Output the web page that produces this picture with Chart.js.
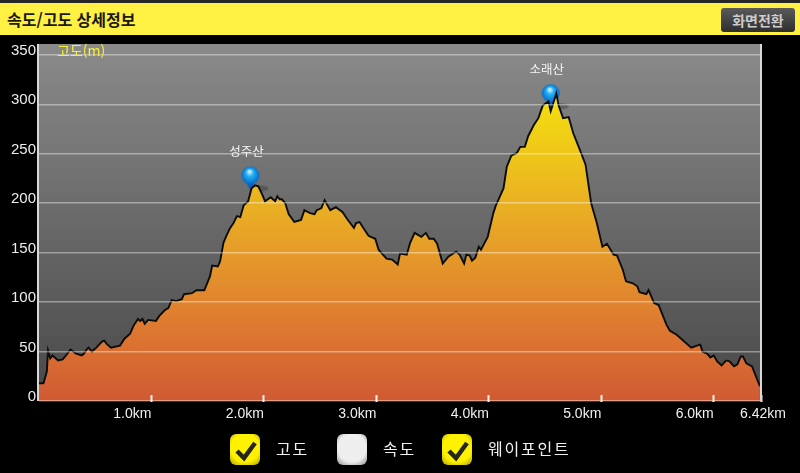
<!DOCTYPE html>
<html lang="ko">
<head>
<meta charset="utf-8">
<title>속도/고도 상세정보</title>
<script src="https://cdn.jsdelivr.net/npm/chart.js@4"></script>
<style>
  html, body { margin: 0; padding: 0; background: #000; }
  #page { position: relative; width: 800px; height: 473px; overflow: hidden; background: #000; font-family: "Noto Sans CJK KR", sans-serif; }
  #chart-wrap { position: absolute; left: 0; top: 0; width: 800px; height: 473px; }
  #top-strip { position: absolute; left: 0; top: 0; width: 800px; height: 3px; background: #262626; }
  #title-bar { position: absolute; left: 0; top: 3px; width: 800px; height: 32px; background: #fff044; }
  #title-bar .title { position: absolute; left: 7px; top: 3px; font-size: 16px; line-height: 26px; font-weight: 700; color: #1a1a10; }
  #btn-switch { position: absolute; left: 721px; top: 5px; width: 74px; height: 24px; border-radius: 3px; background: linear-gradient(#5a5a5a, #2e2e2e); color: #cccccc; font-size: 14px; font-weight: 700; line-height: 24px; text-align: center; }
  .check { position: absolute; top: 434px; width: 30px; height: 31px; border-radius: 6px; }
  .check.on { background: radial-gradient(circle at 50% 45%, #fff200 62%, #a89a00 100%); }
  .check.off { background: radial-gradient(circle at 50% 45%, #eeeeee 62%, #8a8a8a 100%); }
  .check svg { position: absolute; left: 0; top: 0; }
  .legend-text { position: absolute; top: 436px; font-size: 16px; line-height: 24px; color: #f0f0f0; letter-spacing: 1.8px; }
</style>
</head>
<body>
<div id="page">
  <div id="chart-wrap"><canvas id="chart-profile"></canvas></div>
  <div id="top-strip"></div>
  <div id="title-bar">
    <span class="title">속도/고도 상세정보</span>
    <div id="btn-switch">화면전환</div>
  </div>
  <div class="check on" style="left:230px"><svg width="30" height="31"><path d="M7 17 L14 24 L25 9" fill="none" stroke="#26261c" stroke-width="4.5"/></svg></div>
  <div class="legend-text" style="left:276px">고도</div>
  <div class="check off" style="left:337px"></div>
  <div class="legend-text" style="left:383px">속도</div>
  <div class="check on" style="left:442px"><svg width="30" height="31"><path d="M7 17 L14 24 L25 9" fill="none" stroke="#26261c" stroke-width="4.5"/></svg></div>
  <div class="legend-text" style="left:488px">웨이포인트</div>
</div>

<script>
// Elevation profile
const distanceKm = [
  0, 0.04, 0.07, 0.08, 0.10, 0.12, 0.17, 0.21, 0.24, 0.26, 0.28, 0.33, 0.38, 0.40, 0.43, 0.44, 0.47, 0.51, 0.56, 0.58,
  0.60, 0.64, 0.72, 0.76, 0.81, 0.84, 0.88, 0.90, 0.92, 0.94, 0.97, 1.04, 1.07, 1.12, 1.15, 1.18, 1.22, 1.27, 1.29, 1.36,
  1.40, 1.47, 1.52, 1.54, 1.59, 1.61, 1.64, 1.67, 1.70, 1.73, 1.76, 1.79, 1.82, 1.86, 1.89, 1.92, 1.95, 1.98, 2.01, 2.06,
  2.10, 2.12, 2.14, 2.16, 2.19, 2.22, 2.27, 2.33, 2.36, 2.41, 2.45, 2.47, 2.51, 2.54, 2.59, 2.64, 2.70, 2.74, 2.80, 2.82,
  2.85, 2.89, 2.93, 2.99, 3.02, 3.05, 3.09, 3.14, 3.19, 3.21, 3.27, 3.30, 3.34, 3.40, 3.44, 3.47, 3.51, 3.54, 3.59, 3.64,
  3.68, 3.71, 3.74, 3.78, 3.80, 3.83, 3.85, 3.88, 3.91, 3.93, 3.99, 4.04, 4.06, 4.13, 4.16, 4.20, 4.25, 4.28, 4.32, 4.35,
  4.40, 4.44, 4.48, 4.53, 4.55, 4.60, 4.62, 4.66, 4.71, 4.75, 4.82, 4.86, 4.91, 4.96, 5.01, 5.05, 5.11, 5.14, 5.19, 5.22,
  5.28, 5.32, 5.34, 5.40, 5.42, 5.47, 5.51, 5.58, 5.61, 5.67, 5.74, 5.80, 5.85, 5.88, 5.90, 5.94, 5.97, 6.00, 6.03, 6.07,
  6.11, 6.14, 6.18, 6.21, 6.24, 6.26, 6.29, 6.34, 6.41
];
const elevationM = [
  18, 18, 30, 51, 43, 46, 41, 42, 46, 49, 52, 48, 46, 48, 53, 54, 50, 54, 60, 61,
  58, 54, 56, 63, 68, 76, 83, 81, 83, 78, 82, 81, 86, 92, 94, 102, 101, 103, 108, 109,
  112, 112, 126, 137, 136, 141, 160, 168, 175, 180, 187, 186, 198, 202, 215, 218, 217, 210, 202, 206,
  202, 207, 204, 204, 200, 189, 181, 183, 193, 190, 189, 193, 195, 203, 193, 196, 191, 184, 175, 180,
  181, 174, 167, 164, 153, 149, 144, 143, 138, 149, 148, 160, 170, 166, 170, 164, 164, 159, 139, 146,
  149, 151, 148, 139, 148, 147, 142, 145, 156, 153, 166, 190, 197, 215, 237, 248, 251, 257, 257, 268,
  279, 286, 299, 303, 293, 311, 299, 286, 287, 271, 251, 239, 200, 180, 156, 159, 148, 147, 133, 121,
  119, 116, 110, 108, 112, 99, 97, 77, 71, 67, 60, 54, 56, 57, 50, 48, 44, 46, 40, 36,
  41, 40, 35, 37, 45, 45, 38, 35, 15
];

const waypointNames = ['성주산', '소래산'];
const waypointKm = [1.88, 4.55];
const waypointM = [213, 296];

const xTicks = [1, 2, 3, 4, 5, 6, 6.42];
const yTicks = [0, 50, 100, 150, 200, 250, 300, 350];
const xLabels = ['1.0km', '2.0km', '3.0km', '4.0km', '5.0km', '6.0km', '6.42km'];

// Pin image, tip sits on the middle of the canvas so the point lands on the tip
function makePin() {
  const c = document.createElement('canvas');
  c.width = 60;
  c.height = 60;
  const g = c.getContext('2d');
  // shadow
  g.fillStyle = 'rgba(40,40,40,0.35)';
  g.beginPath();
  g.ellipse(39, 28, 9, 3, 0, 0, Math.PI * 2);
  g.fill();
  // tail
  g.fillStyle = '#0a5fc0';
  g.beginPath();
  g.moveTo(22, 15);
  g.lineTo(30, 30);
  g.lineTo(38, 15);
  g.closePath();
  g.fill();
  // head
  const grad = g.createRadialGradient(29, 11, 1, 30, 15, 9);
  grad.addColorStop(0, '#c8eeff');
  grad.addColorStop(0.35, '#22b0f4');
  grad.addColorStop(1, '#0668c8');
  g.fillStyle = grad;
  g.beginPath();
  g.arc(30, 15, 9, 0, Math.PI * 2);
  g.fill();
  return c;
}

// Plot background, frame and the things the axes can't place by themselves
const profileDecor = {
  id: 'profileDecor',
  beforeDraw(chart) {
    const { ctx, chartArea: a } = chart;
    const grad = ctx.createLinearGradient(0, a.top, 0, a.bottom);
    grad.addColorStop(0, '#8a8a8a');
    grad.addColorStop(1, '#484848');
    ctx.fillStyle = grad;
    ctx.fillRect(a.left, a.top, a.right - a.left, a.bottom - a.top);
  },
  afterDraw(chart) {
    const { ctx, chartArea: a, scales } = chart;
    ctx.save();
    // left and right edges
    ctx.strokeStyle = '#d8d8d8';
    ctx.lineWidth = 2;
    ctx.beginPath();
    ctx.moveTo(a.left - 1, a.top);
    ctx.lineTo(a.left - 1, a.bottom);
    ctx.moveTo(a.right, a.top);
    ctx.lineTo(a.right, a.bottom);
    ctx.stroke();
    // last distance label is centred on the end of the axis
    ctx.fillStyle = '#f0f0f0';
    ctx.font = '14px "Liberation Sans"';
    ctx.textAlign = 'center';
    ctx.textBaseline = 'top';
    ctx.fillText(xLabels[xLabels.length - 1], scales.x.getPixelForValue(6.42) + 2, a.bottom + 6);
    // axis unit
    ctx.fillStyle = '#f8f030';
    ctx.font = '14px "Noto Sans CJK KR"';
    ctx.textAlign = 'left';
    ctx.textBaseline = 'middle';
    ctx.fillText('고도(m)', a.left + 18, a.top + 7);
    // waypoint names
    const meta = chart.getDatasetMeta(1);
    ctx.fillStyle = '#f4f4f4';
    ctx.font = '12.5px "Noto Sans CJK KR"';
    ctx.textAlign = 'center';
    meta.data.forEach((pt, i) => {
      ctx.fillText(waypointNames[i], pt.x - 4, pt.y - 39.5);
    });
    ctx.restore();
  }
};

const ctx = document.getElementById('chart-profile').getContext('2d');

new Chart(ctx, {
  type: 'line',
  data: {
    datasets: [
      {
        label: '고도',
        data: distanceKm.map((km, i) => ({ x: km, y: elevationM[i] })),
        borderColor: '#0c0c0c',
        borderWidth: 1.9,
        pointRadius: 0,
        tension: 0,
        fill: 'origin',
        order: 1,
        backgroundColor: (c) => {
          const area = c.chart.chartArea;
          if (!area) return '#e8a828';
          const g = c.chart.ctx.createLinearGradient(0, 95, 0, area.bottom);
          g.addColorStop(0, '#f4e00e');
          g.addColorStop(0.42, '#e8a826');
          g.addColorStop(0.75, '#de7a30');
          g.addColorStop(1, '#d05a34');
          return g;
        }
      },
      {
        label: '웨이포인트',
        data: waypointKm.map((km, i) => ({ x: km, y: waypointM[i] })),
        showLine: false,
        pointStyle: makePin(),
        order: 2
      }
    ]
  },
  options: {
    responsive: true,
    maintainAspectRatio: false,
    animation: false,
    layout: { padding: { top: 44, right: 39, left: 0, bottom: 0 } },
    plugins: {
      legend: { display: false },
      tooltip: { enabled: false }
    },
    scales: {
      x: {
        type: 'linear',
        min: 0,
        max: 6.42,
        afterBuildTicks: (scale) => { scale.ticks = xTicks.map(v => ({ value: v })); },
        afterFit: (scale) => { scale.height = 72; },
        grid: {
          drawOnChartArea: false,
          drawTicks: true,
          tickLength: -6,
          tickColor: '#f4f4f4',
          tickWidth: 2,
          z: 1
        },
        border: { color: '#d8d8d8', width: 2 },
        ticks: {
          autoSkip: false,
          maxRotation: 0,
          align: 'end',
          padding: 11,
          color: '#f0f0f0',
          font: { family: '"Liberation Sans"', size: 14 },
          callback: (v) => {
            const i = xTicks.indexOf(v);
            return i === xTicks.length - 1 ? '' : xLabels[i];
          }
        }
      },
      y: {
        type: 'linear',
        min: 0,
        max: 361,
        afterBuildTicks: (scale) => { scale.ticks = yTicks.map(v => ({ value: v })); },
        afterFit: (scale) => { scale.width = 39; },
        grid: {
          color: 'rgba(255,255,255,0.4)',
          lineWidth: 1.5,
          drawTicks: false,
          z: 1
        },
        border: { display: false },
        ticks: {
          padding: 3,
          color: '#ececec',
          // blank second line lifts the number above its grid line
          font: { family: '"Liberation Sans"', size: 15, lineHeight: '8px' },
          callback: (v) => [String(v), '']
        }
      }
    }
  },
  plugins: [profileDecor]
});
</script>
</body>
</html>
